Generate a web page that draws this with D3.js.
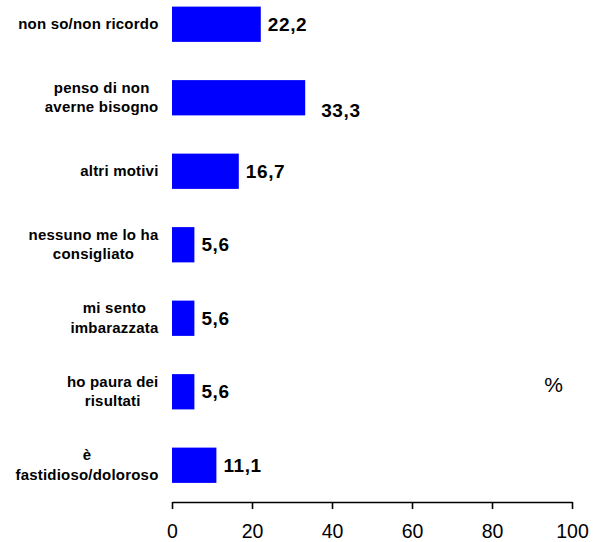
<!DOCTYPE html>
<html><head><meta charset="utf-8">
<script src="https://cdn.jsdelivr.net/npm/d3@7"></script>
<style>
body{margin:0;background:#fff;}
text{font-family:"Liberation Sans",Arial,sans-serif;}
</style></head>
<body><svg id="c" width="595" height="542"></svg>
<script>
const categories = [
  ["non so/non ricordo"],
  ["penso di non","averne bisogno"],
  ["altri motivi"],
  ["nessuno me lo ha","consigliato"],
  ["mi sento","imbarazzata"],
  ["ho paura dei","risultati"],
  ["è","fastidioso/doloroso"]
];
const values = [22.2, 33.3, 16.7, 5.6, 5.6, 5.6, 11.1];
const valueLabels = ["22,2","33,3","16,7","5,6","5,6","5,6","11,1"];
const tickValues = [0,20,40,60,80,100];
const unitLabel = "%";

const svg = d3.select("#c");
const keys = categories.map(c => c.join(" "));
const x = d3.scaleLinear().domain([0,100]).range([172,572]);
const y = d3.scaleBand().domain(keys).range([-12.5,502]).paddingInner(0.52).paddingOuter(0.26);

svg.selectAll("rect.bar").data(values).join("rect")
  .attr("class","bar")
  .attr("x", x(0))
  .attr("y", (d,i) => y(keys[i]))
  .attr("width", d => x(d) - x(0))
  .attr("height", y.bandwidth())
  .attr("fill","#0000ff");

// value labels
svg.selectAll("text.val").data(values).join("text")
  .attr("class","val")
  .attr("x", (d,i) => x(d) + (i===1 ? 16 : 7))
  .attr("y", (d,i) => y(keys[i]) + y.bandwidth()/2 + (i===1 ? 19 : 6.5))
  .attr("font-size", 19).attr("font-weight","bold")
  .attr("letter-spacing","0.6px")
  .attr("fill","#000")
  .text((d,i) => valueLabels[i]);

// category labels
categories.forEach((lines,i) => {
  const cy = y(keys[i]) + y.bandwidth()/2;
  const g = svg.append("g");
  const n = lines.length;
  const ts = lines.map((ln,j) => g.append("text")
    .attr("y", cy + (j - (n-1)/2) * 19.5 + 4.5)
    .attr("font-size", 15).attr("font-weight","bold")
    .attr("letter-spacing","0.2px")
    .attr("text-anchor","middle")
    .attr("fill","#000")
    .text(ln));
  const w = d3.max(ts, t => t.node().getComputedTextLength());
  ts.forEach(t => t.attr("x", 158.5 - w/2));
});

// axis
const ax = svg.append("g").attr("transform","translate(0,502)")
  .call(d3.axisBottom(x).tickValues(tickValues).tickSize(7).tickSizeOuter(0));
ax.select(".domain").attr("stroke","#000").attr("stroke-width",1.6);
ax.selectAll(".tick line").attr("stroke","#000").attr("stroke-width",1.6);
ax.selectAll(".tick text")
  .attr("y", 36).attr("dy", 0)
  .attr("font-size", 19.5).attr("fill","#000")
  .attr("font-family","Liberation Sans, Arial, sans-serif");

svg.append("text").attr("x", 553.5).attr("y", 392)
  .attr("text-anchor","middle").attr("font-size",21).attr("fill","#000")
  .text(unitLabel);
</script></body></html>
